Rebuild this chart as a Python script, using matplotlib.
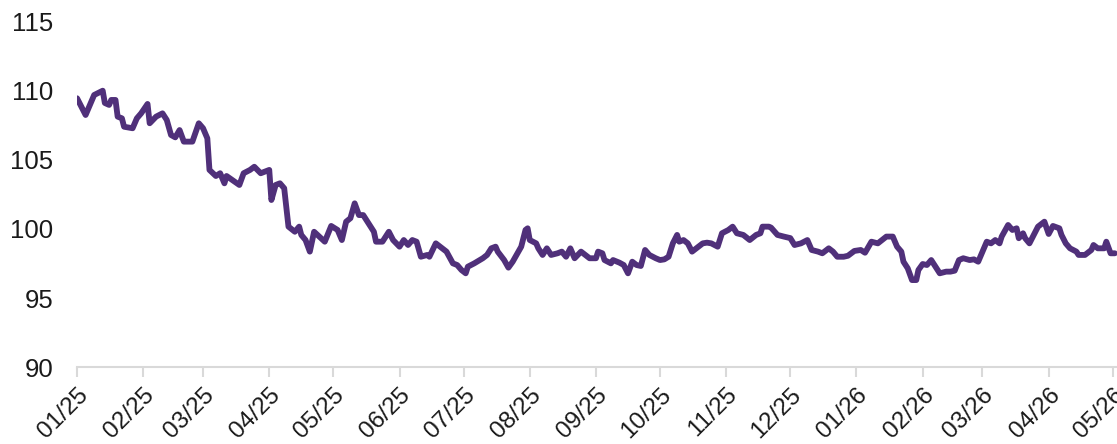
import matplotlib
matplotlib.use('Agg')
import matplotlib.pyplot as plt
import matplotlib.dates as mdates
import pandas as pd

# ── Data ───────────────────────────────────────────────────────────────────
dates = [
    '2025-01-01', '2025-01-05', '2025-01-07', '2025-01-09', '2025-01-13', '2025-01-14',
    '2025-01-16', '2025-01-17', '2025-01-19', '2025-01-20', '2025-01-22', '2025-01-23',
    '2025-01-27', '2025-01-29', '2025-01-31', '2025-02-03', '2025-02-04', '2025-02-07',
    '2025-02-10', '2025-02-12', '2025-02-14', '2025-02-16', '2025-02-18', '2025-02-20',
    '2025-02-22', '2025-02-24', '2025-02-27', '2025-03-01', '2025-03-03', '2025-03-04',
    '2025-03-07', '2025-03-09', '2025-03-11', '2025-03-12', '2025-03-18', '2025-03-20',
    '2025-03-23', '2025-03-25', '2025-03-28', '2025-04-01', '2025-04-02', '2025-04-04',
    '2025-04-06', '2025-04-08', '2025-04-10', '2025-04-13', '2025-04-15', '2025-04-16',
    '2025-04-18', '2025-04-20', '2025-04-22', '2025-04-27', '2025-04-30', '2025-05-03',
    '2025-05-05', '2025-05-07', '2025-05-09', '2025-05-11', '2025-05-13', '2025-05-15',
    '2025-05-17', '2025-05-20', '2025-05-21', '2025-05-24', '2025-05-27', '2025-05-29',
    '2025-06-01', '2025-06-03', '2025-06-05', '2025-06-07', '2025-06-09', '2025-06-11',
    '2025-06-14', '2025-06-15', '2025-06-18', '2025-06-21', '2025-06-23', '2025-06-26',
    '2025-06-28', '2025-06-30', '2025-07-02', '2025-07-03', '2025-07-06', '2025-07-10',
    '2025-07-12', '2025-07-14', '2025-07-16', '2025-07-17', '2025-07-20', '2025-07-22',
    '2025-07-24', '2025-07-28', '2025-07-30', '2025-07-31', '2025-08-01', '2025-08-04',
    '2025-08-05', '2025-08-07', '2025-08-09', '2025-08-11', '2025-08-14', '2025-08-16',
    '2025-08-18', '2025-08-20', '2025-08-22', '2025-08-25', '2025-08-27', '2025-08-29',
    '2025-09-01', '2025-09-02', '2025-09-04', '2025-09-05', '2025-09-08', '2025-09-09',
    '2025-09-12', '2025-09-14', '2025-09-16', '2025-09-18', '2025-09-20', '2025-09-22',
    '2025-09-24', '2025-09-26', '2025-09-29', '2025-10-01', '2025-10-03', '2025-10-05',
    '2025-10-07', '2025-10-09', '2025-10-10', '2025-10-12', '2025-10-14', '2025-10-16',
    '2025-10-18', '2025-10-21', '2025-10-23', '2025-10-25', '2025-10-28', '2025-10-30',
    '2025-11-02', '2025-11-04', '2025-11-06', '2025-11-09', '2025-11-12', '2025-11-15',
    '2025-11-17', '2025-11-18', '2025-11-21', '2025-11-22', '2025-11-25', '2025-11-28',
    '2025-12-01', '2025-12-03', '2025-12-06', '2025-12-09', '2025-12-11', '2025-12-14',
    '2025-12-16', '2025-12-19', '2025-12-21', '2025-12-23', '2025-12-26', '2025-12-28',
    '2025-12-31', '2026-01-03', '2026-01-05', '2026-01-08', '2026-01-11', '2026-01-13',
    '2026-01-15', '2026-01-18', '2026-01-20', '2026-01-22', '2026-01-23', '2026-01-25',
    '2026-01-27', '2026-01-29', '2026-01-30', '2026-02-01', '2026-02-03', '2026-02-05',
    '2026-02-07', '2026-02-09', '2026-02-12', '2026-02-14', '2026-02-16', '2026-02-18',
    '2026-02-20', '2026-02-23', '2026-02-25', '2026-02-27', '2026-03-02', '2026-03-03',
    '2026-03-05', '2026-03-07', '2026-03-09', '2026-03-10', '2026-03-13', '2026-03-15',
    '2026-03-17', '2026-03-18', '2026-03-20', '2026-03-21', '2026-03-23', '2026-03-25',
    '2026-03-27', '2026-03-30', '2026-04-01', '2026-04-03', '2026-04-06', '2026-04-07',
    '2026-04-09', '2026-04-11', '2026-04-14', '2026-04-15', '2026-04-18', '2026-04-21',
    '2026-04-22', '2026-04-24', '2026-04-27', '2026-04-28', '2026-04-30', '2026-05-02',
]
values = [
    109.47, 108.26, 108.99, 109.71, 110.02, 109.13,
    108.99, 109.35, 109.35, 108.14, 108.02, 107.41,
    107.30, 108.02, 108.38, 109.06, 107.66, 108.14,
    108.38, 107.90, 106.81, 106.64, 107.17, 106.33,
    106.33, 106.33, 107.66, 107.30, 106.57, 104.28,
    103.84, 104.04, 103.31, 103.84, 103.19, 104.04,
    104.28, 104.51, 104.04, 104.28, 102.10, 103.19,
    103.31, 102.95, 100.17, 99.80, 100.17, 99.57,
    99.20, 98.36, 99.80, 99.08, 100.22, 99.93,
    99.20, 100.53, 100.78, 101.86, 101.01, 101.01,
    100.53, 99.80, 99.08, 99.08, 99.80, 99.20,
    98.72, 99.20, 98.84, 99.20, 99.08, 97.99,
    98.12, 97.99, 98.96, 98.60, 98.36, 97.51,
    97.39, 97.03, 96.79, 97.27, 97.51, 97.88,
    98.12, 98.60, 98.72, 98.36, 97.75, 97.20,
    97.63, 98.72, 99.93, 100.05, 99.20, 98.96,
    98.60, 98.12, 98.60, 98.12, 98.24, 98.36,
    97.99, 98.60, 97.88, 98.36, 98.12, 97.88,
    97.88, 98.36, 98.24, 97.75, 97.51, 97.75,
    97.56, 97.39, 96.79, 97.63, 97.39, 97.32,
    98.48, 98.12, 97.88, 97.75, 97.80, 97.99,
    98.96, 99.57, 99.08, 99.20, 98.96, 98.36,
    98.60, 98.96, 99.01, 98.96, 98.72, 99.69,
    99.93, 100.17, 99.69, 99.57, 99.20, 99.57,
    99.69, 100.17, 100.17, 100.10, 99.57, 99.45,
    99.34, 98.84, 98.96, 99.20, 98.48, 98.36,
    98.24, 98.60, 98.36, 97.99, 97.99, 98.06,
    98.41, 98.48, 98.28, 99.08, 98.96, 99.20,
    99.45, 99.45, 98.72, 98.36, 97.63, 97.15,
    96.30, 96.30, 97.03, 97.46, 97.39, 97.75,
    97.27, 96.79, 96.91, 96.91, 96.98, 97.75,
    97.88, 97.75, 97.80, 97.63, 98.72, 99.08,
    98.96, 99.20, 98.96, 99.45, 100.29, 99.93,
    100.05, 99.33, 99.69, 99.33, 98.96, 99.57,
    100.17, 100.53, 99.64, 100.22, 100.05, 99.57,
    98.96, 98.60, 98.36, 98.12, 98.12, 98.48,
    98.84, 98.60, 98.60, 99.08, 98.24, 98.24,
]
x_start, x_end = '2025-01-01', '2026-05-03'
y_ticks = [90, 95, 100, 105, 110, 115]

# ── Style ──────────────────────────────────────────────────────────────────
C_LINE = '#50307a'
C_AXIS = '#d9d9d9'
C_TEXT = '#1a1a1a'
plt.rcParams['font.family'] = ['Liberation Sans', 'DejaVu Sans']

fig = plt.figure(figsize=(11.17, 4.44), dpi=100, facecolor='white')
ax = fig.add_axes([0.069, 0.1734, 0.931, 0.7771])

ax.plot(pd.to_datetime(dates), values, color=C_LINE, lw=4.2,
        solid_joinstyle='round', solid_capstyle='round')

ax.set_xlim(pd.Timestamp(x_start), pd.Timestamp(x_end))
ax.set_ylim(y_ticks[0], y_ticks[-1])
ax.set_yticks(y_ticks)

ax.xaxis.set_major_locator(mdates.MonthLocator())
ax.xaxis.set_major_formatter(mdates.DateFormatter('%m/%y'))

for side in ['top', 'right', 'left']:
    ax.spines[side].set_visible(False)
ax.spines['bottom'].set_color(C_AXIS)
ax.spines['bottom'].set_linewidth(1.5)

ax.tick_params(axis='y', length=0, pad=17, labelsize=18.5, labelcolor=C_TEXT)
ax.tick_params(axis='x', length=7, width=1.5, color=C_AXIS, pad=5,
               labelsize=17.5, labelcolor=C_TEXT)
for lab in ax.get_xticklabels():
    lab.set_rotation(45)
    lab.set_ha('right')
    lab.set_va('top')
    lab.set_rotation_mode('anchor')

fig.savefig('out.png', dpi=100, facecolor='white')
